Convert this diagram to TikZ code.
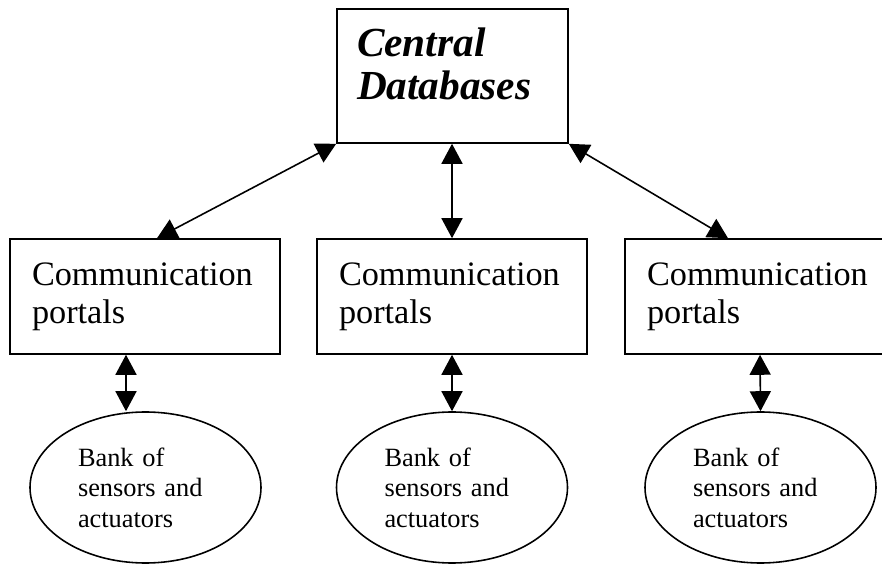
\documentclass[tikz,border=0pt]{standalone}
\usepackage{fontspec}
\setmainfont{Liberation Serif}
\usetikzlibrary{arrows.meta,shapes.geometric}
\begin{document}
\begin{tikzpicture}[
  box/.style={draw,line width=0.9pt,inner sep=0pt,align=left,minimum height=2.3cm,minimum width=5.4cm,text width=4.52cm,font=\fontsize{19.5}{21.5}\selectfont},
  hub/.style={box,minimum height=2.68cm,minimum width=4.62cm,text width=3.82cm,font=\fontsize{23.5}{24}\selectfont\bfseries\itshape},
  bank/.style={draw,ellipse,line width=0.9pt,inner sep=0pt,align=left,minimum width=4.62cm,minimum height=3.02cm,text width=2.7cm,font=\fontsize{15}{17.4}\selectfont},
  link/.style={{Triangle[length=0.4cm,width=0.42cm]}-{Triangle[length=0.4cm,width=0.42cm]},line width=0.9pt}
]
\useasboundingbox (0,0) rectangle (17.64,-11.3);
\node[hub] (central) at (9.05,-1.52) {Central\\Databases\rule[-14pt]{0pt}{0pt}};
\node[box] (portalL) at (2.9,-5.93) {Communication\\portals};
\node[box] (portalM) at (9.04,-5.93) {Communication\\portals};
\node[box] (portalR) at (15.2,-5.93) {Communication\\portals};
\node[bank] (bankL) at (2.91,-9.75) {Bank of\\sensors and\\actuators};
\node[bank] (bankM) at (9.04,-9.75) {Bank of\\sensors and\\actuators};
\node[bank] (bankR) at (15.21,-9.75) {Bank of\\sensors and\\actuators};
\draw[link] (central.south west) -- ([xshift=0.24cm]portalL.north);
\draw[link] (central.south -| portalM.north) -- (portalM.north);
\draw[link] (central.south east) -- ([xshift=-0.64cm]portalR.north);
\draw[link] ([xshift=-0.38cm]portalL.south) -- ([xshift=-0.38cm]portalL.south |- bankL.north);
\draw[link] (portalM.south) -- (bankM.north);
\draw[link] (portalR.south) -- (bankR.north);
\end{tikzpicture}
\end{document}
